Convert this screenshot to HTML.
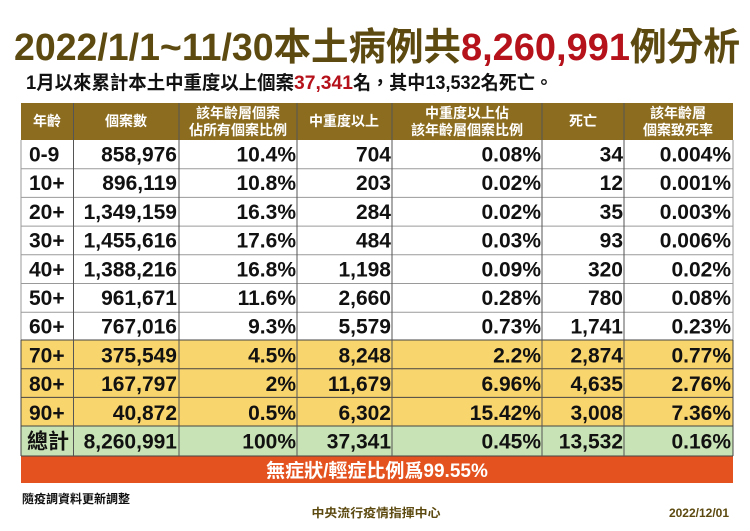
<!DOCTYPE html>
<html><head><meta charset="utf-8"><style>
body{margin:0;background:#fff}
svg{display:block}
text{font-family:"Liberation Sans","Noto Sans CJK TC",sans-serif;font-weight:bold}
.n{font-size:21px;fill:#111;text-anchor:end}
.a{font-size:21px;fill:#111}
.h{font-size:14px;fill:#fff;text-anchor:middle}
</style></head><body>
<svg width="750" height="531" viewBox="0 0 750 531">
<text x="14" y="60" font-size="38" fill="#5c4a10" textLength="447" lengthAdjust="spacingAndGlyphs">2022/1/1~11/30本土病例共</text>
<text x="461" y="60" font-size="38" fill="#b5121b" textLength="169" lengthAdjust="spacingAndGlyphs">8,260,991</text>
<text x="630" y="60" font-size="38" fill="#5c4a10" textLength="110" lengthAdjust="spacingAndGlyphs">例分析</text>
<text x="26" y="89" font-size="19" fill="#111" textLength="268" lengthAdjust="spacingAndGlyphs">1月以來累計本土中重度以上個案</text>
<text x="294" y="89" font-size="19" fill="#b5121b" textLength="59" lengthAdjust="spacingAndGlyphs">37,341</text>
<text x="353" y="89" font-size="19" fill="#111" textLength="200" lengthAdjust="spacingAndGlyphs">名，其中13,532名死亡。</text>

<rect x="21" y="103" width="712" height="37" fill="#8c6d1f"/>
<rect x="21" y="340" width="712" height="86" fill="#f9d56e"/>
<rect x="21" y="426" width="712" height="30" fill="#c8e3b5"/>
<rect x="21" y="456" width="712" height="27" fill="#e4531f"/>
<g stroke="#9a9a9a" stroke-width="1">
<line x1="21" y1="168.7" x2="733" y2="168.7"/><line x1="21" y1="197.4" x2="733" y2="197.4"/>
<line x1="21" y1="226.1" x2="733" y2="226.1"/><line x1="21" y1="254.8" x2="733" y2="254.8"/>
<line x1="21" y1="283.5" x2="733" y2="283.5"/><line x1="21" y1="312.2" x2="733" y2="312.2"/>
<line x1="21" y1="140" x2="21" y2="340"/><line x1="733" y1="140" x2="733" y2="340"/>
</g>
<g stroke="#444" stroke-width="1">
<line x1="21" y1="340" x2="733" y2="340"/><line x1="21" y1="368.7" x2="733" y2="368.7"/>
<line x1="21" y1="397.4" x2="733" y2="397.4"/><line x1="21" y1="426" x2="733" y2="426"/>
<line x1="21" y1="456" x2="733" y2="456"/>
<line x1="21" y1="340" x2="21" y2="456"/><line x1="733" y1="340" x2="733" y2="456"/>
</g>
<g stroke="#555" stroke-width="1">
<line x1="73.5" y1="103" x2="73.5" y2="456"/><line x1="179" y1="103" x2="179" y2="456"/>
<line x1="297" y1="103" x2="297" y2="456"/><line x1="392" y1="103" x2="392" y2="456"/>
<line x1="542" y1="103" x2="542" y2="456"/><line x1="624" y1="103" x2="624" y2="456"/>
</g>
<text class="h" x="47" y="126">年齡</text>
<text class="h" x="126" y="126">個案數</text>
<text class="h" x="238" y="118">該年齡層個案</text><text class="h" x="238" y="135">佔所有個案比例</text>
<text class="h" x="344" y="126">中重度以上</text>
<text class="h" x="467" y="118">中重度以上佔</text><text class="h" x="467" y="135">該年齡層個案比例</text>
<text class="h" x="583" y="126">死亡</text>
<text class="h" x="678" y="118">該年齡層</text><text class="h" x="678" y="135">個案致死率</text>

<g><text class="a" x="29" y="161.5">0-9</text><text class="n" x="177" y="161.5">858,976</text><text class="n" x="296" y="161.5">10.4%</text><text class="n" x="391" y="161.5">704</text><text class="n" x="541" y="161.5">0.08%</text><text class="n" x="623" y="161.5">34</text><text class="n" x="731" y="161.5">0.004%</text></g>
<g><text class="a" x="29" y="190.2">10+</text><text class="n" x="177" y="190.2">896,119</text><text class="n" x="296" y="190.2">10.8%</text><text class="n" x="391" y="190.2">203</text><text class="n" x="541" y="190.2">0.02%</text><text class="n" x="623" y="190.2">12</text><text class="n" x="731" y="190.2">0.001%</text></g>
<g><text class="a" x="29" y="218.9">20+</text><text class="n" x="177" y="218.9">1,349,159</text><text class="n" x="296" y="218.9">16.3%</text><text class="n" x="391" y="218.9">284</text><text class="n" x="541" y="218.9">0.02%</text><text class="n" x="623" y="218.9">35</text><text class="n" x="731" y="218.9">0.003%</text></g>
<g><text class="a" x="29" y="247.6">30+</text><text class="n" x="177" y="247.6">1,455,616</text><text class="n" x="296" y="247.6">17.6%</text><text class="n" x="391" y="247.6">484</text><text class="n" x="541" y="247.6">0.03%</text><text class="n" x="623" y="247.6">93</text><text class="n" x="731" y="247.6">0.006%</text></g>
<g><text class="a" x="29" y="276.3">40+</text><text class="n" x="177" y="276.3">1,388,216</text><text class="n" x="296" y="276.3">16.8%</text><text class="n" x="391" y="276.3">1,198</text><text class="n" x="541" y="276.3">0.09%</text><text class="n" x="623" y="276.3">320</text><text class="n" x="731" y="276.3">0.02%</text></g>
<g><text class="a" x="29" y="305">50+</text><text class="n" x="177" y="305">961,671</text><text class="n" x="296" y="305">11.6%</text><text class="n" x="391" y="305">2,660</text><text class="n" x="541" y="305">0.28%</text><text class="n" x="623" y="305">780</text><text class="n" x="731" y="305">0.08%</text></g>
<g><text class="a" x="29" y="333.7">60+</text><text class="n" x="177" y="333.7">767,016</text><text class="n" x="296" y="333.7">9.3%</text><text class="n" x="391" y="333.7">5,579</text><text class="n" x="541" y="333.7">0.73%</text><text class="n" x="623" y="333.7">1,741</text><text class="n" x="731" y="333.7">0.23%</text></g>
<g><text class="a" x="29" y="362.4">70+</text><text class="n" x="177" y="362.4">375,549</text><text class="n" x="296" y="362.4">4.5%</text><text class="n" x="391" y="362.4">8,248</text><text class="n" x="541" y="362.4">2.2%</text><text class="n" x="623" y="362.4">2,874</text><text class="n" x="731" y="362.4">0.77%</text></g>
<g><text class="a" x="29" y="391.1">80+</text><text class="n" x="177" y="391.1">167,797</text><text class="n" x="296" y="391.1">2%</text><text class="n" x="391" y="391.1">11,679</text><text class="n" x="541" y="391.1">6.96%</text><text class="n" x="623" y="391.1">4,635</text><text class="n" x="731" y="391.1">2.76%</text></g>
<g><text class="a" x="29" y="419.8">90+</text><text class="n" x="177" y="419.8">40,872</text><text class="n" x="296" y="419.8">0.5%</text><text class="n" x="391" y="419.8">6,302</text><text class="n" x="541" y="419.8">15.42%</text><text class="n" x="623" y="419.8">3,008</text><text class="n" x="731" y="419.8">7.36%</text></g>
<g><text class="a" x="27" y="448.5">總計</text><text class="n" x="177" y="448.5">8,260,991</text><text class="n" x="296" y="448.5">100%</text><text class="n" x="391" y="448.5">37,341</text><text class="n" x="541" y="448.5">0.45%</text><text class="n" x="623" y="448.5">13,532</text><text class="n" x="731" y="448.5">0.16%</text></g>

<text x="377" y="477" font-size="19" fill="#fff" text-anchor="middle">無症狀/輕症比例爲99.55%</text>
<text x="22" y="503" font-size="12" fill="#111">隨疫調資料更新調整</text>
<text x="376" y="517" font-size="12" fill="#5c4a10" text-anchor="middle" textLength="129" lengthAdjust="spacingAndGlyphs">中央流行疫情指揮中心</text>
<text x="729" y="517" font-size="12" fill="#5c4a10" text-anchor="end">2022/12/01</text>
</svg>
</body></html>
